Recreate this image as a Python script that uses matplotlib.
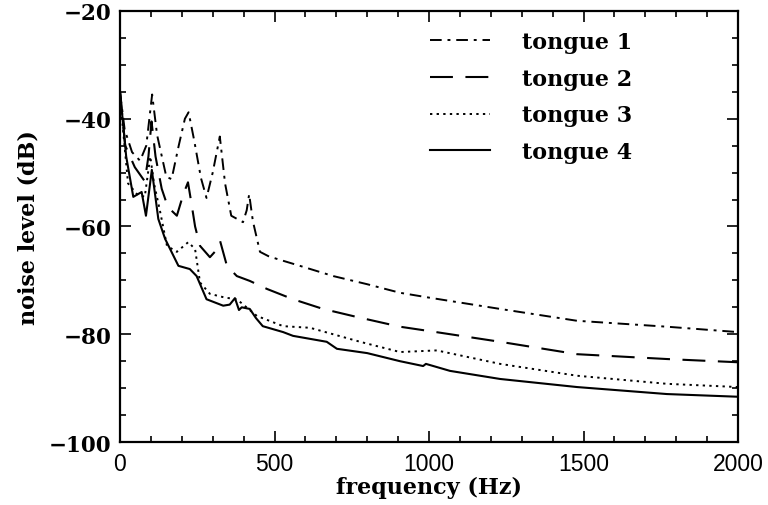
#!/usr/bin/env python3
"""
Noise level spectra for four tongue configurations.
"""

import matplotlib
matplotlib.use("Agg")
import matplotlib.pyplot as plt
from matplotlib.ticker import MultipleLocator

# tongue 1 (dash-dot)
freq_1 = [0, 15, 39, 65, 85, 104, 120, 150, 167, 190, 210, 222, 240, 262, 280,
          300, 323, 340, 360, 398, 410, 418, 430, 453, 480, 507, 582, 690, 799,
          906, 1000, 1230, 1479, 1770, 2000]
level_1 = [-35, -42, -46.2, -47.8, -45, -35.5, -43, -50.8, -51.2, -45, -40,
           -38.8, -44, -51, -54.7, -50, -43.3, -52, -58, -59.2, -57, -54, -59,
           -64.7, -65.5, -66, -67.3, -69.2, -70.7, -72.3, -73.2, -75.3, -77.5,
           -78.6, -79.6]

# tongue 2 (dashed)
freq_2 = [0, 17, 48, 80, 92, 102, 115, 135, 155, 184, 205, 220, 232, 243, 259,
          291, 310, 324, 346, 378, 420, 476, 560, 657, 767, 906, 1000, 1230,
          1479, 1770, 2000]
level_2 = [-35, -45, -49, -51.6, -47, -40.5, -47, -53, -56.4, -58, -54, -51.8,
           -56, -60, -63.6, -65.7, -64.5, -62.7, -67.3, -69.2, -70.1, -71.6,
           -73.5, -75.3, -76.8, -78.6, -79.4, -81.4, -83.7, -84.6, -85.2]

# tongue 3 (dotted)
freq_3 = [0, 26, 55, 80, 98, 110, 129, 152, 184, 221, 243, 259, 291, 340, 378,
          443, 528, 615, 777, 906, 1025, 1230, 1479, 1770, 2000]
level_3 = [-36, -52, -54, -54.5, -47, -52, -57, -63.6, -64.7, -62.9, -64.2,
           -70.4, -72.5, -73.2, -73.5, -76.6, -78.5, -78.8, -81.4, -83.3, -83.0,
           -85.5, -87.7, -89.2, -89.8]

# tongue 4 (solid)
freq_4 = [0, 20, 43, 70, 84, 103, 124, 146, 189, 226, 248, 280, 334, 355, 372,
          385, 394, 420, 440, 462, 528, 560, 669, 702, 800, 906, 981, 990, 1068,
          1230, 1479, 1770, 2000]
level_4 = [-35, -47, -54.5, -53.6, -58, -49.5, -58.6, -62.3, -67.3, -67.9, -69.2,
           -73.5, -74.7, -74.5, -73.3, -75.5, -75, -75.3, -77, -78.5, -79.6,
           -80.3, -81.4, -82.7, -83.5, -85, -85.9, -85.5, -86.8, -88.3, -89.8,
           -91.1, -91.6]

labels = ["tongue 1", "tongue 2", "tongue 3", "tongue 4"]

SERIF = "DejaVu Serif"

fig = plt.figure(figsize=(7.68, 5.06), dpi=100)
ax = fig.add_axes([0.15625, 0.1245, 0.8047, 0.8518])

ax.plot(freq_1, level_1, color="black", lw=1.4, dashes=(6, 3, 1.5, 3), label=labels[0])
ax.plot(freq_2, level_2, color="black", lw=1.5, dashes=(11, 6), label=labels[1])
ax.plot(freq_3, level_3, color="black", lw=1.4, dashes=(1.2, 2.2), label=labels[2])
ax.plot(freq_4, level_4, color="black", lw=1.5, label=labels[3])

ax.set_xlim(0, 2000)
ax.set_ylim(-100, -20)
ax.xaxis.set_major_locator(MultipleLocator(500))
ax.xaxis.set_minor_locator(MultipleLocator(100))
ax.yaxis.set_major_locator(MultipleLocator(20))
ax.yaxis.set_minor_locator(MultipleLocator(5))

ax.tick_params(which="both", direction="in", top=True, right=True, width=1.2)
ax.tick_params(which="major", length=8)
ax.tick_params(which="minor", length=4)
ax.tick_params(axis="x", pad=7)
ax.tick_params(axis="y", pad=6)
for sp in ax.spines.values():
    sp.set_linewidth(1.6)

for t in ax.get_yticklabels():
    t.set_fontfamily(SERIF)
    t.set_fontweight("bold")
    t.set_fontsize(15.5)
for t in ax.get_xticklabels():
    t.set_fontfamily("Liberation Sans")
    t.set_fontsize(16.5)

ax.set_xlabel("frequency (Hz)", fontfamily=SERIF, fontweight="bold", fontsize=16, labelpad=1)
ax.set_ylabel("noise level (dB)", fontfamily=SERIF, fontweight="bold", fontsize=16, labelpad=7)

leg = ax.legend(loc="upper left", bbox_to_anchor=(0.487, 0.974), frameon=False,
                handlelength=2.7, handletextpad=1.45, labelspacing=0.66,
                borderaxespad=0, borderpad=0.4,
                prop={"family": SERIF, "weight": "bold", "size": 16})

plt.savefig("out.png", dpi=100)
plt.close()
